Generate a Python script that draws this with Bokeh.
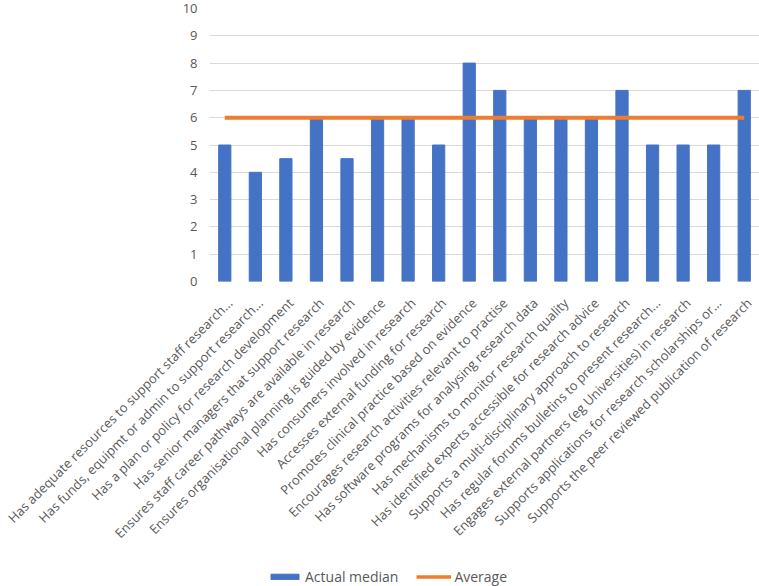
from math import pi
from bokeh.plotting import figure
from bokeh.core.properties import value
from bokeh.models import FixedTicker, Legend, LegendItem, Range1d, LabelSet, ColumnDataSource
from bokeh.embed import file_html
from bokeh.resources import INLINE

categories = [
    "Has adequate resources to support staff research...",
    "Has funds, equipmt or admin to support research...",
    "Has a plan or policy for research development",
    "Has senior managers that support research",
    "Ensures staff career pathways are available in research",
    "Ensures organisational planning is guided by evidence",
    "Has consumers involved in research",
    "Accesses external funding for research",
    "Promotes clinical practice based on evidence",
    "Encourages research activities relevant to practise",
    "Has software programs for analysing research data",
    "Has mechanisms to monitor research quality",
    "Has identified experts accessible for research advice",
    "Supports a multi-disciplinary approach to research",
    "Has regular forums bulletins to present research...",
    "Engages external partners (eg Universities) in research",
    "Supports applications for research scholarships or...",
    "Supports the peer reviewed publication of research",
]
actual_median = [5, 4, 4.5, 6, 4.5, 6, 6, 5, 8, 7, 6, 6, 6, 7, 5, 5, 5, 7]
average = [6] * len(categories)
y_ticks = list(range(0, 11))
legend_labels = ["Actual median", "Average"]

FONT = "Open Sans"
GREY = "#595959"
BLUE = "#4472C4"
ORANGE = "#ED7D31"

W, H = 759, 586
LEFT, TOP, FRAME_H, BOTTOM = 209, 8, 273, 9
MAIN_H = TOP + FRAME_H + BOTTOM
FRAME_W = W - LEFT

# ---- main chart ----
p = figure(x_range=categories, y_range=Range1d(0, 10), width=W, height=MAIN_H,
           output_backend="svg", toolbar_location=None,
           min_border_left=LEFT, min_border_right=0, min_border_top=TOP,
           min_border_bottom=BOTTOM)

bars = p.vbar(x=categories, top=actual_median, width=0.4, color=BLUE)
line = p.line(x=categories, y=average, line_color=ORANGE, line_width=4)

p.outline_line_color = None
p.xgrid.grid_line_color = None
p.ygrid.grid_line_color = "#d9d9d9"
p.ygrid.grid_line_width = 1
p.xaxis.visible = False

p.yaxis.ticker = FixedTicker(ticks=y_ticks)
p.yaxis.axis_line_color = None
p.yaxis.major_tick_line_color = None
p.yaxis.minor_tick_line_color = None
p.yaxis.major_tick_out = 0
p.yaxis.major_tick_in = 0
p.yaxis.major_label_text_font = FONT
p.yaxis.major_label_text_font_size = "13px"
p.yaxis.major_label_text_color = GREY
p.yaxis.major_label_standoff = 12

# ---- category labels + legend (separate root directly below the chart) ----
n = len(categories)
cat_w = FRAME_W / n
LAB_H = H - MAIN_H
p2 = figure(x_range=Range1d(-LEFT / cat_w, n), y_range=Range1d(-LAB_H, 0),
            width=W, height=LAB_H, output_backend="svg", toolbar_location=None,
            min_border=0)
p2.axis.visible = False
p2.grid.visible = False
p2.outline_line_color = None

label_src = ColumnDataSource(dict(x=[i + 0.5 for i in range(n)], y=[0] * n, text=categories))
labels = LabelSet(x="x", y="y", text="text", source=label_src,
                  angle=pi / 4, text_align="right", text_baseline="middle",
                  x_offset=5, y_offset=-10,
                  text_font=value(FONT), text_font_size=value("13px"), text_color=GREY)
p2.add_layout(labels)

# legend proxies (styled like the chart's series, placed far outside the visible area)
proxy_bar = p2.vbar(x=[-1000], top=[-100000], bottom=[-100001], width=0.4, color=BLUE)
proxy_line = p2.line(x=[-1000, -999], y=[-100000, -100000], line_color=ORANGE, line_width=3.5)

legend = Legend(items=[LegendItem(label=legend_labels[0], renderers=[proxy_bar]),
                       LegendItem(label=legend_labels[1], renderers=[proxy_line])],
                orientation="horizontal", location=(267, 0),
                glyph_width=35, glyph_height=7, spacing=18,
                label_text_font=FONT, label_text_font_size="14px",
                label_text_color=GREY, border_line_color=None,
                background_fill_alpha=0, padding=0, margin=0, label_standoff=3)
p2.add_layout(legend)

open("out.html", "w").write(file_html([p, p2], INLINE))
